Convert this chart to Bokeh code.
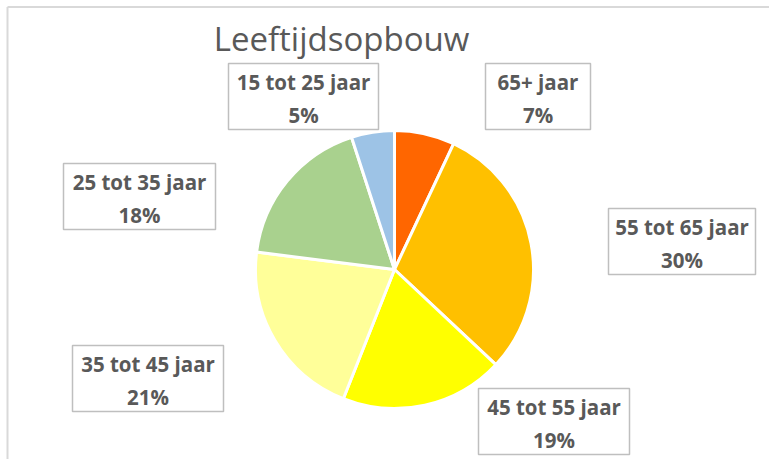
import math
from bokeh.plotting import figure
from bokeh.models import Range1d, ColumnDataSource
from bokeh.core.properties import value
from bokeh.embed import file_html
from bokeh.resources import INLINE

# ---- data ----
title_text = "Leeftijdsopbouw"
categories = ["65+ jaar", "55 tot 65 jaar", "45 tot 55 jaar", "35 tot 45 jaar", "25 tot 35 jaar", "15 tot 25 jaar"]
values = [7, 30, 19, 21, 18, 5]
colors = ["#FF6600", "#FFC000", "#FFFF00", "#FFFF99", "#A9D18E", "#9DC3E6"]

# ---- layout (screen pixels) ----
W, H = 769, 459
cx, cy, R = 394, 269, 139
box_left = [485, 608, 478, 72, 63, 228]
box_top = [63, 208, 388, 345, 163, 63]
box_w = [105, 147, 151, 151, 152, 150]
box_h = 66

def sy(y):
    return H - y

p = figure(width=W, height=H, output_backend="svg", toolbar_location=None,
           x_range=Range1d(0, W), y_range=Range1d(0, H),
           min_border=0, outline_line_color=None)
p.axis.visible = False
p.grid.visible = False
p.background_fill_color = "white"
p.border_fill_color = "white"

# chart frame lines (top and left)
p.segment(x0=[7, 7], y0=[sy(6.5), sy(6.5)],
          x1=[W, 7], y1=[sy(6.5), sy(H)],
          line_color="#D9D9D9", line_width=2)

# pie
total = sum(values)
starts, ends = [], []
acc = 0.0
for v in values:
    starts.append(math.pi / 2 - 2 * math.pi * acc / total)
    acc += v
    ends.append(math.pi / 2 - 2 * math.pi * acc / total)

src = ColumnDataSource(dict(start=starts, end=ends, color=colors))
p.wedge(x=cx, y=sy(cy), radius=R, start_angle="start", end_angle="end",
        direction="clock", fill_color="color", line_color="white", line_width=3,
        source=src)

# title
p.text(x=[341], y=[sy(38)], text=[title_text], text_font=value("Open Sans"),
       text_font_size="33px", text_color="#595959", text_align="center",
       text_baseline="alphabetic")

# label boxes
left = box_left
right = [l + w for l, w in zip(box_left, box_w)]
top = [sy(t) for t in box_top]
bottom = [sy(t + box_h) for t in box_top]
p.quad(left=left, right=right, top=top, bottom=bottom, fill_color="white",
       line_color="#BFBFBF", line_width=1.5)

mid = [l + w / 2 for l, w in zip(box_left, box_w)]
p.text(x=mid, y=[sy(t + 18) for t in box_top], text=categories,
       text_font=value("Open Sans"), text_font_style="bold", text_font_size="20.5px",
       text_color="#595959", text_align="center", text_baseline="alphabetic")
p.text(x=mid, y=[sy(t + 51) for t in box_top], text=[f"{v}%" for v in values],
       text_font=value("Open Sans"), text_font_style="bold", text_font_size="20.5px",
       text_color="#595959", text_align="center", text_baseline="alphabetic")

open("out.html", "w").write(file_html(p, INLINE))
